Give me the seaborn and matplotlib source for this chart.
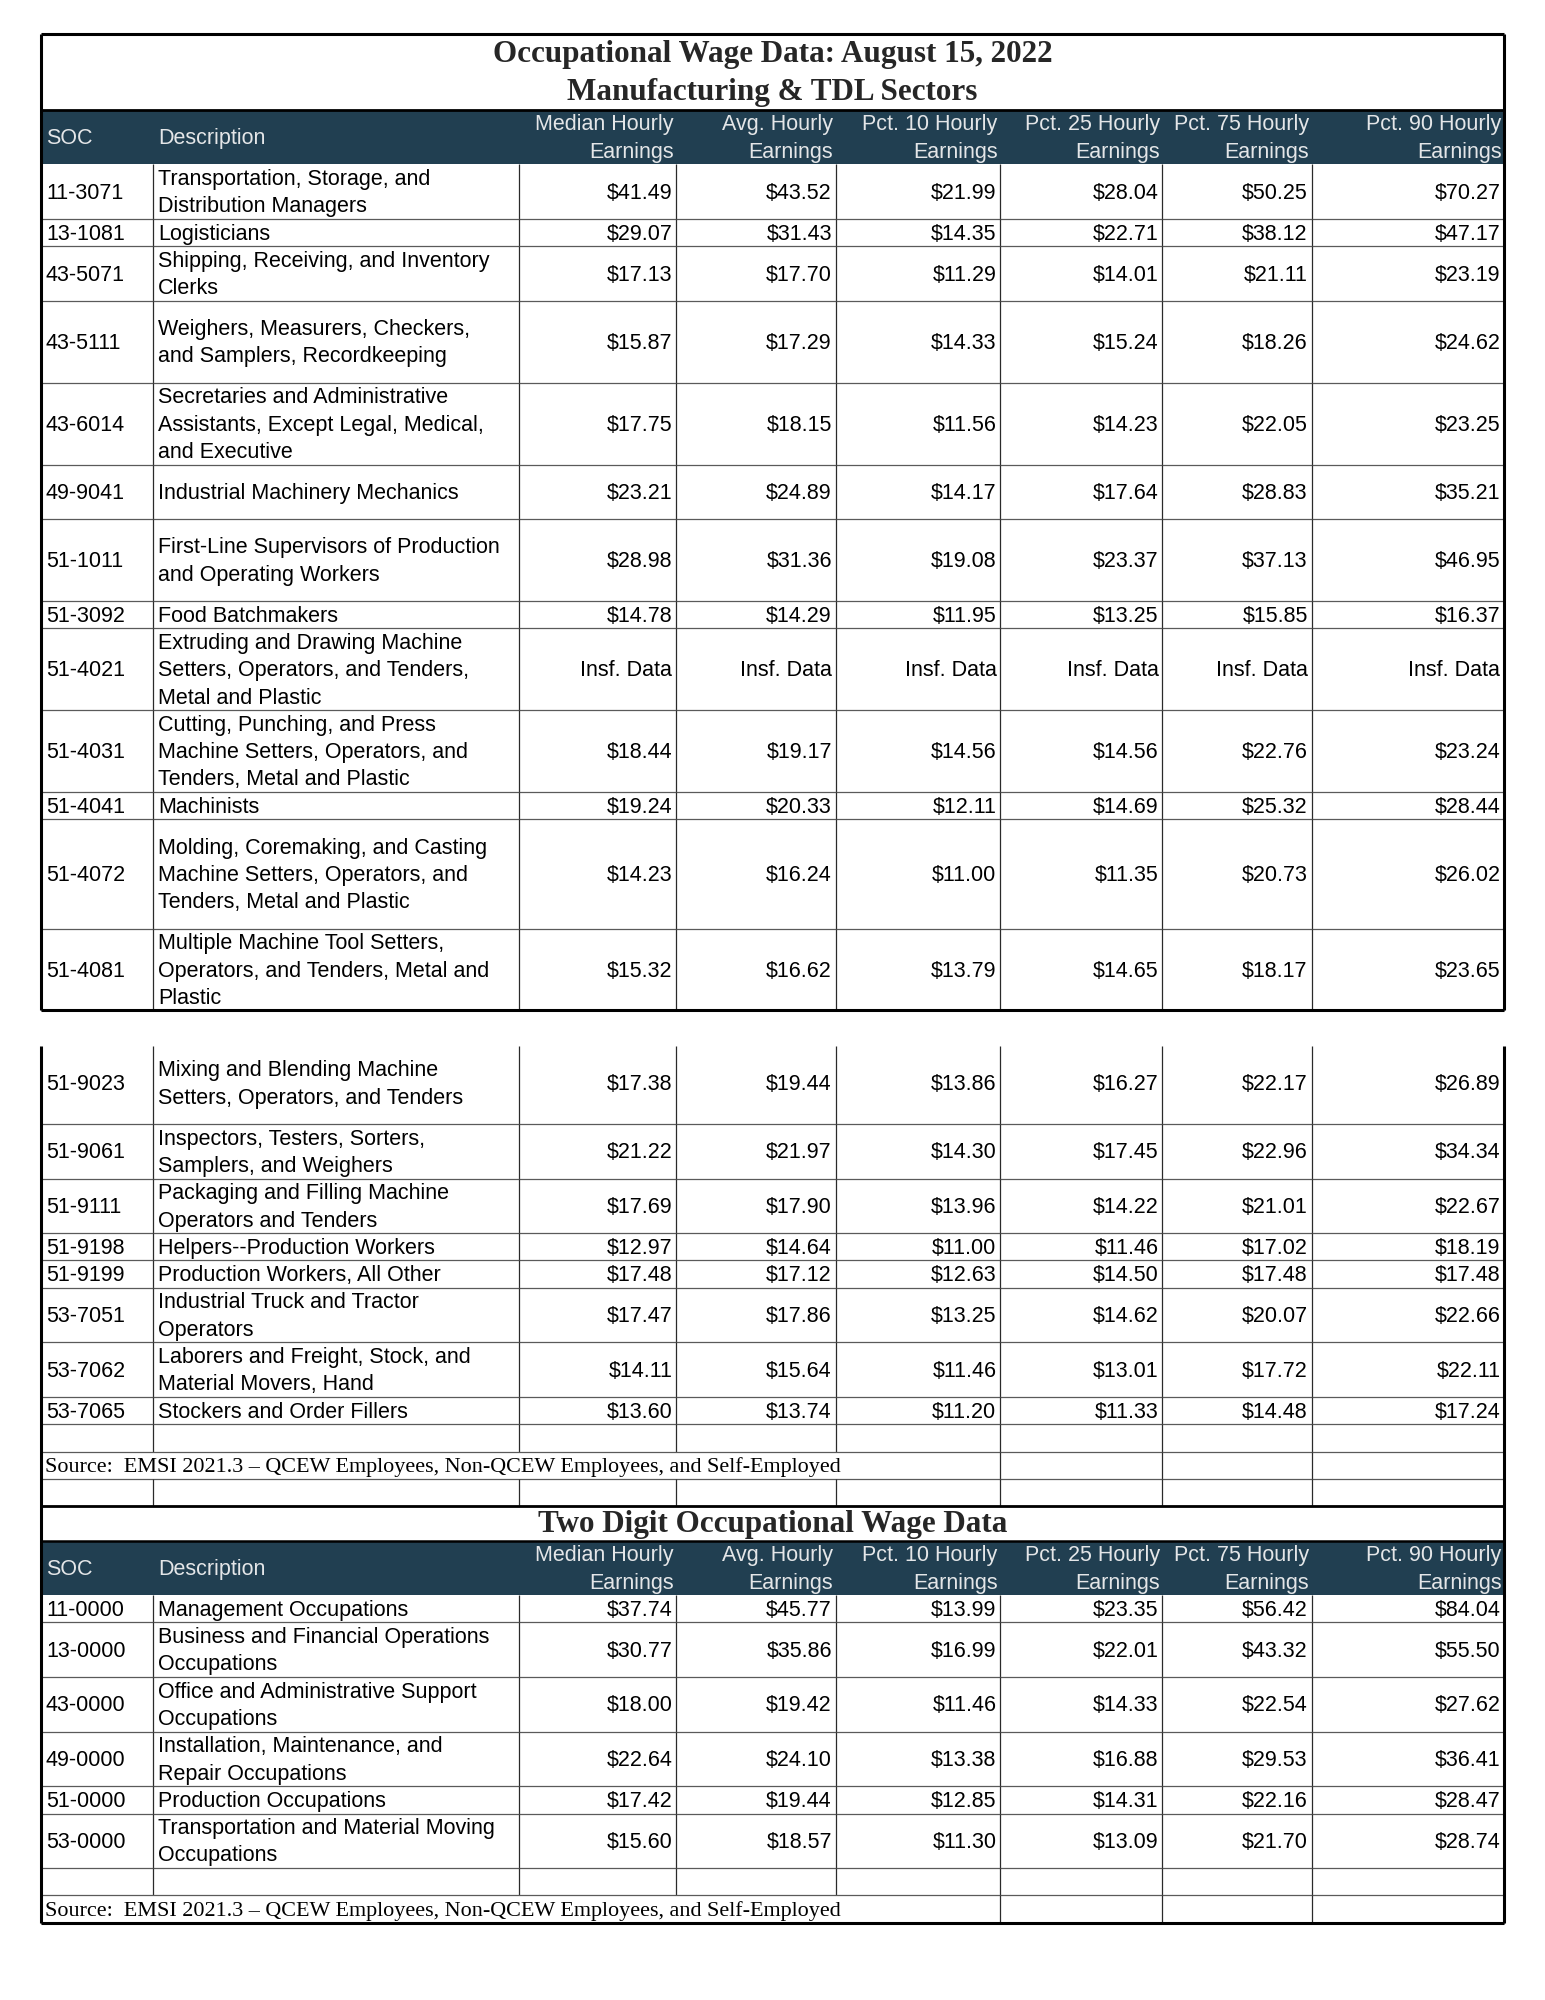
import numpy as np
import matplotlib
matplotlib.use("Agg")
import matplotlib.pyplot as plt
import seaborn as sns
from matplotlib import font_manager as fm

sns.set_theme(style="white")
names = {f.name for f in fm.fontManager.ttflist}
NARROW = "Liberation Sans Narrow" in names
SANS = "Liberation Sans Narrow" if NARROW else "Liberation Sans"
SERIF = "Liberation Serif"
plt.rcParams["font.family"] = [SANS, "DejaVu Sans"]

# ---------------- data ----------------
title1 = "Occupational Wage Data: August 15, 2022"
title2 = "Manufacturing & TDL Sectors"
title3 = "Two Digit Occupational Wage Data"
source_text = "Source:  EMSI 2021.3 \u2013 QCEW Employees, Non-QCEW Employees, and Self-Employed"
headers = ["SOC", "Description", "Median Hourly\nEarnings", "Avg. Hourly\nEarnings",
           "Pct. 10 Hourly\nEarnings", "Pct. 25 Hourly\nEarnings",
           "Pct. 75 Hourly\nEarnings", "Pct. 90 Hourly\nEarnings"]

soc_a = ["11-3071", "13-1081", "43-5071", "43-5111", "43-6014", "49-9041", "51-1011",
         "51-3092", "51-4021", "51-4031", "51-4041", "51-4072", "51-4081"]
desc_a = ["Transportation, Storage, and\nDistribution Managers",
          "Logisticians",
          "Shipping, Receiving, and Inventory\nClerks",
          "Weighers, Measurers, Checkers,\nand Samplers, Recordkeeping",
          "Secretaries and Administrative\nAssistants, Except Legal, Medical,\nand Executive",
          "Industrial Machinery Mechanics",
          "First-Line Supervisors of Production\nand Operating Workers",
          "Food Batchmakers",
          "Extruding and Drawing Machine\nSetters, Operators, and Tenders,\nMetal and Plastic",
          "Cutting, Punching, and Press\nMachine Setters, Operators, and\nTenders, Metal and Plastic",
          "Machinists",
          "Molding, Coremaking, and Casting\nMachine Setters, Operators, and\nTenders, Metal and Plastic",
          "Multiple Machine Tool Setters,\nOperators, and Tenders, Metal and\nPlastic"]
median_a = [41.49, 29.07, 17.13, 15.87, 17.75, 23.21, 28.98, 14.78, np.nan, 18.44, 19.24, 14.23, 15.32]
avg_a    = [43.52, 31.43, 17.70, 17.29, 18.15, 24.89, 31.36, 14.29, np.nan, 19.17, 20.33, 16.24, 16.62]
p10_a    = [21.99, 14.35, 11.29, 14.33, 11.56, 14.17, 19.08, 11.95, np.nan, 14.56, 12.11, 11.00, 13.79]
p25_a    = [28.04, 22.71, 14.01, 15.24, 14.23, 17.64, 23.37, 13.25, np.nan, 14.56, 14.69, 11.35, 14.65]
p75_a    = [50.25, 38.12, 21.11, 18.26, 22.05, 28.83, 37.13, 15.85, np.nan, 22.76, 25.32, 20.73, 18.17]
p90_a    = [70.27, 47.17, 23.19, 24.62, 23.25, 35.21, 46.95, 16.37, np.nan, 23.24, 28.44, 26.02, 23.65]

soc_b = ["51-9023", "51-9061", "51-9111", "51-9198", "51-9199", "53-7051", "53-7062", "53-7065"]
desc_b = ["Mixing and Blending Machine\nSetters, Operators, and Tenders",
          "Inspectors, Testers, Sorters,\nSamplers, and Weighers",
          "Packaging and Filling Machine\nOperators and Tenders",
          "Helpers--Production Workers",
          "Production Workers, All Other",
          "Industrial Truck and Tractor\nOperators",
          "Laborers and Freight, Stock, and\nMaterial Movers, Hand",
          "Stockers and Order Fillers"]
median_b = [17.38, 21.22, 17.69, 12.97, 17.48, 17.47, 14.11, 13.60]
avg_b    = [19.44, 21.97, 17.90, 14.64, 17.12, 17.86, 15.64, 13.74]
p10_b    = [13.86, 14.30, 13.96, 11.00, 12.63, 13.25, 11.46, 11.20]
p25_b    = [16.27, 17.45, 14.22, 11.46, 14.50, 14.62, 13.01, 11.33]
p75_b    = [22.17, 22.96, 21.01, 17.02, 17.48, 20.07, 17.72, 14.48]
p90_b    = [26.89, 34.34, 22.67, 18.19, 17.48, 22.66, 22.11, 17.24]

soc_c = ["11-0000", "13-0000", "43-0000", "49-0000", "51-0000", "53-0000"]
desc_c = ["Management Occupations",
          "Business and Financial Operations\nOccupations",
          "Office and Administrative Support\nOccupations",
          "Installation, Maintenance, and\nRepair Occupations",
          "Production Occupations",
          "Transportation and Material Moving\nOccupations"]
median_c = [37.74, 30.77, 18.00, 22.64, 17.42, 15.60]
avg_c    = [45.77, 35.86, 19.42, 24.10, 19.44, 18.57]
p10_c    = [13.99, 16.99, 11.46, 13.38, 12.85, 11.30]
p25_c    = [23.35, 22.01, 14.33, 16.88, 14.31, 13.09]
p75_c    = [56.42, 43.32, 22.54, 29.53, 22.16, 21.70]
p90_c    = [84.04, 55.50, 27.62, 36.41, 28.47, 28.74]

# ---------------- layout ----------------
units_a = [2, 1, 2, 3, 3, 2, 3, 1, 3, 3, 1, 4, 3]
units_b = [3, 2, 2, 1, 1, 2, 2, 1]
units_c = [1, 2, 2, 2, 1, 2]
U = 21.4
DY = 1.2  # small downward shift of text baseline
COLX = [32, 120, 407, 530, 655, 784, 911, 1028, 1179]
HEAD_BG = "#213f51"
HEAD_FG = "#e4e6e8"
GRID_H = "#5a5a5a"
GRID_V = "#2a2a2a"
FS = 18.2 if NARROW else 15.5
FS_T = 22.4
FS_S = 15.9

fig = plt.figure(figsize=(15.45, 20), dpi=100)
ax = fig.add_axes([0, 0, 1, 1])
ax.set_xlim(0, 1211)
ax.set_ylim(1568, 0)
ax.axis("off")


def fmt(v):
    return "Insf. Data" if np.isnan(v) else "${:.2f}".format(v)


def hline(y, lw=0.9, color=GRID_H):
    ax.plot([COLX[0], COLX[-1]], [y, y], color=color, lw=lw, solid_capstyle="butt", zorder=3)


def vline(x, y0, y1, lw=0.9, color=GRID_V):
    ax.plot([x, x], [y0, y1], color=color, lw=lw, solid_capstyle="butt", zorder=3)


def header(y0):
    y1 = y0 + 2 * U
    ax.fill_between([COLX[0], COLX[-1]], y0, y1, color=HEAD_BG, zorder=1, lw=0)
    ym = (y0 + y1) / 2 + DY
    ax.text(COLX[0] + 4, ym, headers[0], ha="left", va="center", fontsize=FS, color=HEAD_FG, zorder=4)
    ax.text(COLX[1] + 4, ym, headers[1], ha="left", va="center", fontsize=FS, color=HEAD_FG, zorder=4)
    for j in range(2, 8):
        l1, l2 = headers[j].split("\n")
        ax.text(COLX[j + 1] - 2, ym - U / 2, l1, ha="right", va="center", fontsize=FS, color=HEAD_FG, zorder=4)
        ax.text(COLX[j + 1] - 2, ym + U / 2, l2, ha="right", va="center", fontsize=FS, color=HEAD_FG, zorder=4)
    return y1


def data_rows(y, socs, descs, cols, units, vtop=None):
    for i, (s, d, u) in enumerate(zip(socs, descs, units)):
        y1 = y + u * U
        ym = (y + y1) / 2 + DY
        ax.text(COLX[0] + 4, ym, s, ha="left", va="center", fontsize=FS, color="black", zorder=4)
        lines = d.split("\n")
        n = len(lines)
        for k, ln in enumerate(lines):
            ax.text(COLX[1] + 4, ym + (k - (n - 1) / 2) * U, ln, ha="left", va="center",
                    fontsize=FS, color="black", zorder=4)
        for j, col in enumerate(cols):
            ax.text(COLX[j + 3] - 3, ym, fmt(col[i]), ha="right", va="center",
                    fontsize=FS, color="black", zorder=4)
        top = y if (vtop is None or i > 0) else vtop
        for x in COLX[1:-1]:
            vline(x, top, y1)
        hline(y1)
        y = y1
    return y


def empty_row(y):
    y1 = y + U
    for x in COLX[1:-1]:
        vline(x, y, y1)
    hline(y1)
    return y1


def source_row(y):
    y1 = y + U
    ax.text(COLX[0] + 3, (y + y1) / 2 + DY, source_text, ha="left", va="center",
            fontsize=FS_S, family=[SERIF, "DejaVu Serif"], color="black", zorder=4)
    for x in COLX[5:-1]:
        vline(x, y, y1)
    hline(y1)
    return y1


# ----- block 1 -----
TOP1 = 27
ax.text((COLX[0] + COLX[-1]) / 2, 43, title1, ha="center", va="center", fontsize=FS_T,
        fontweight="bold", family=[SERIF, "DejaVu Serif"], zorder=4)
ax.text((COLX[0] + COLX[-1]) / 2, 72.5, title2, ha="center", va="center", fontsize=FS_T,
        fontweight="bold", family=[SERIF, "DejaVu Serif"], zorder=4)
y = header(86)
y = data_rows(y, soc_a, desc_a, [median_a, avg_a, p10_a, p25_a, p75_a, p90_a], units_a)
BOT1 = y
hline(TOP1, lw=2.2, color="black")
hline(86, lw=2.0, color="black")
hline(BOT1, lw=2.2, color="black")
vline(COLX[0], TOP1, BOT1, lw=2.2, color="black")
vline(COLX[-1], TOP1, BOT1, lw=2.2, color="black")

# ----- block 2 -----
TOP2 = 820
y = TOP2 - 3
y = data_rows(y, soc_b, desc_b, [median_b, avg_b, p10_b, p25_b, p75_b, p90_b], units_b, vtop=TOP2)
y = empty_row(y)
y = source_row(y)
y = empty_row(y)
T3 = y
hline(T3, lw=2.0, color="black")
ax.text((COLX[0] + COLX[-1]) / 2, T3 + 14.5, title3, ha="center", va="center", fontsize=FS_T,
        fontweight="bold", family=[SERIF, "DejaVu Serif"], zorder=4)
y = T3 + 27
hline(y, lw=1.8, color="black")
y = header(y)
y = data_rows(y, soc_c, desc_c, [median_c, avg_c, p10_c, p25_c, p75_c, p90_c], units_c)
y = empty_row(y)
y = source_row(y)
BOT2 = y
hline(BOT2, lw=2.2, color="black")
vline(COLX[0], TOP2, BOT2, lw=2.2, color="black")
vline(COLX[-1], TOP2, BOT2, lw=2.2, color="black")

fig.savefig("out.png", dpi=100, facecolor="white")
